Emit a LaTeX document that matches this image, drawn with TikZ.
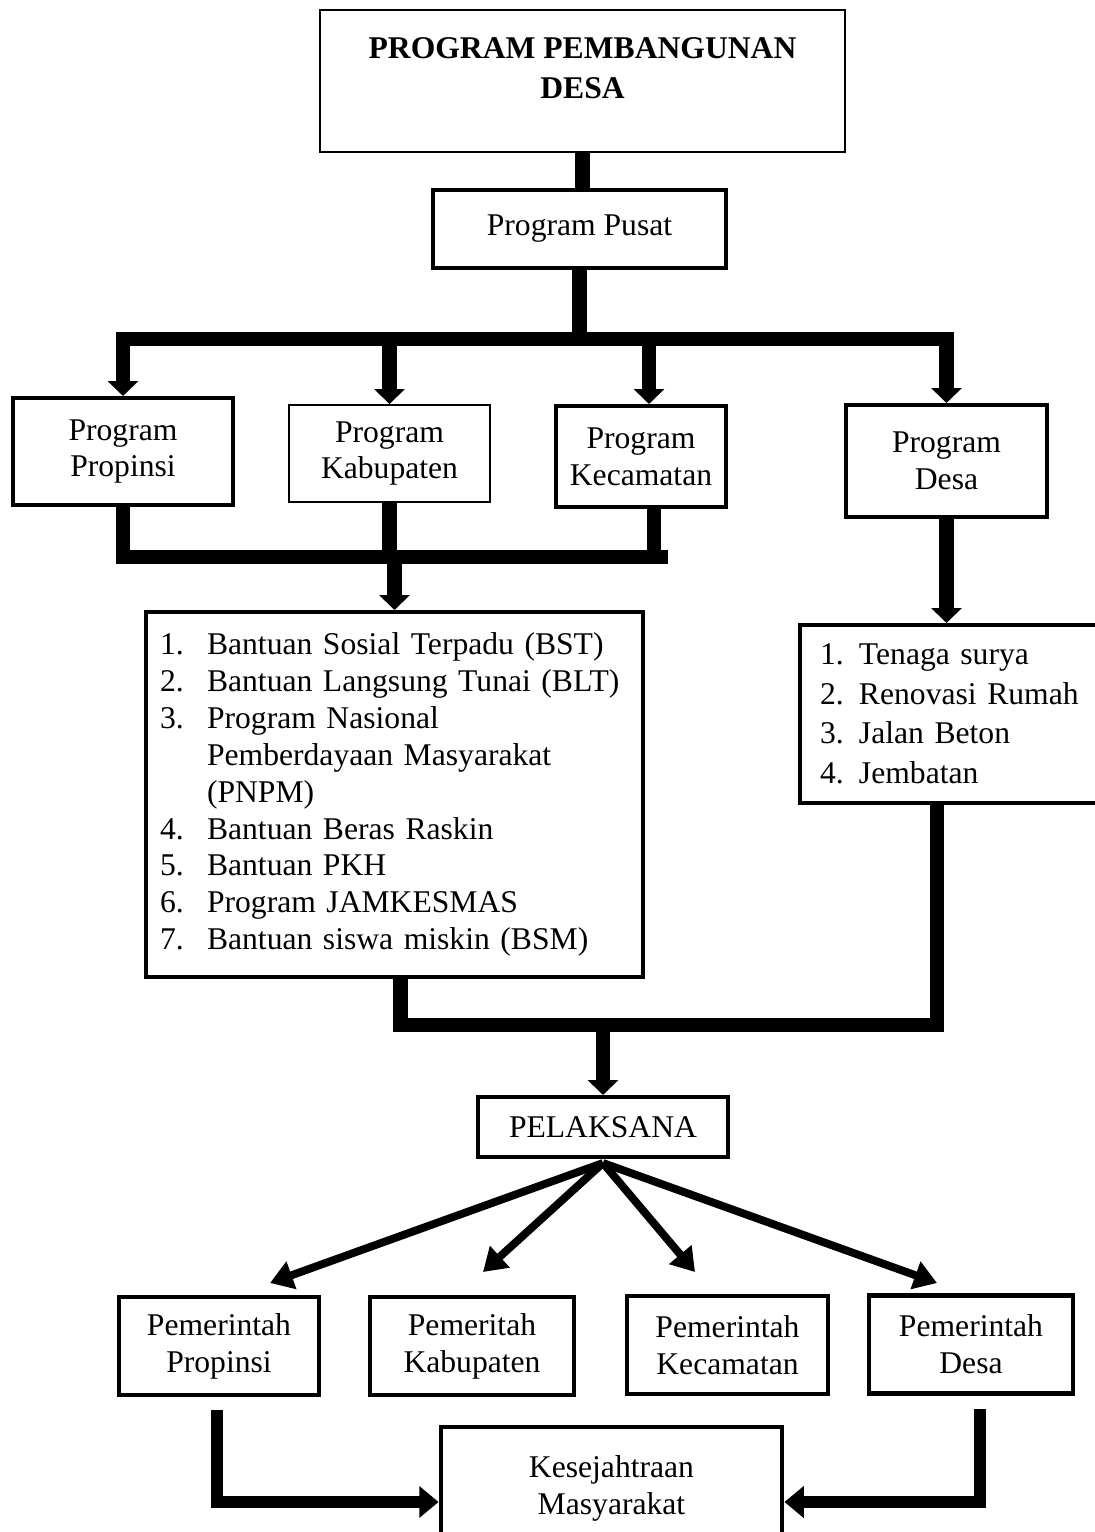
\documentclass[tikz,border=0pt]{standalone}
\usepackage{fontspec}
\setmainfont{Liberation Serif}
\usetikzlibrary{arrows.meta}

\newcommand{\butir}[2][0.94cm]{\makebox[#1][l]{#2}}

\begin{document}
\begin{tikzpicture}[x=0.02cm, y=-0.02cm, line join=miter,
    font=\fontsize{18}{21}\selectfont,
    kotak/.style={draw, line width=2.3pt, align=center, inner sep=2pt},
    kotaktipis/.style={kotak, line width=1.1pt},
    kotaktebal/.style={kotak, line width=2.8pt},
    jalur/.style={line width=8pt},
    panah/.style={jalur, -{Triangle[length=8.5pt,width=17pt]}},
    panahsiku/.style={line width=7pt, -{Triangle[length=11pt,width=17.5pt]}},
    panahmiring/.style={line width=4.5pt, -{Triangle[length=13pt,width=16pt]}}]
      \useasboundingbox (0,0) rectangle (1095,1532);

      % boxes
      \node[kotaktipis, minimum width=10.5cm, minimum height=2.84cm, text depth=15pt,
        font=\fontsize{18}{22.5}\selectfont\bfseries] (judul) at (582.5,81)
        {PROGRAM PEMBANGUNAN\\DESA};
      \node[kotak, minimum width=5.86cm, minimum height=1.56cm] (pusat) at (579.5,229) {Program Pusat};

      \node[kotak, minimum width=4.4cm, minimum height=2.14cm] (prop) at (123,451.5) {Program\\Propinsi};
      \node[kotaktipis, minimum width=4.02cm, minimum height=1.94cm] (kab) at (389.5,453.5) {Program\\Kabupaten};
      \node[kotak, minimum width=3.4cm, minimum height=2.02cm] (kec) at (641,456.5) {Program\\Kecamatan};
      \node[kotak, minimum width=4.02cm, minimum height=2.24cm] (desa) at (946.5,461) {Program\\Desa};

      \node[kotak, minimum width=9.94cm, minimum height=7.3cm, text width=9.38cm, align=left] (daftar1) at (394.5,794.5)
        {\butir{1.}Bantuan Sosial Terpadu (BST)\\
         \butir{2.}Bantuan Langsung Tunai (BLT)\\
         \butir{3.}Program Nasional\\
         \butir{}Pemberdayaan Masyarakat\\
         \butir{}(PNPM)\\
         \butir{4.}Bantuan Beras Raskin\\
         \butir{5.}Bantuan PKH\\
         \butir{6.}Program JAMKESMAS\\
         \butir{7.}Bantuan siswa miskin (BSM)};
      \node[kotak, minimum width=6cm, minimum height=3.56cm, text width=5.2cm, align=left,
        font=\fontsize{18}{22.5}\selectfont] (daftar2) at (950,714)
        {\butir[0.78cm]{1.}Tenaga surya\\
         \butir[0.78cm]{2.}Renovasi Rumah\\
         \butir[0.78cm]{3.}Jalan Beton\\
         \butir[0.78cm]{4.}Jembatan};

      \node[kotak, minimum width=5cm, minimum height=1.2cm] (pel) at (603,1127) {PELAKSANA};

      \node[kotaktebal, minimum width=4cm, minimum height=1.96cm] (bprop) at (219,1346) {Pemerintah\\Propinsi};
      \node[kotaktebal, minimum width=4.08cm, minimum height=1.96cm] (bkab) at (472,1346) {Pemeritah\\Kabupaten};
      \node[kotaktebal, minimum width=4.02cm, minimum height=1.96cm] (bkec) at (727.5,1345) {Pemerintah\\Kecamatan};
      \node[kotaktebal, minimum width=4.08cm, minimum height=1.96cm] (bdesa) at (971,1344.5) {Pemerintah\\Desa};

      \node[kotaktebal, minimum width=6.82cm, minimum height=2.46cm] (kes) at (611.5,1488.5) {Kesejahtraan\\Masyarakat};

      % junctions
      \coordinate (b1w) at (116,339);
      \coordinate (b1e) at (953.5,339);
      \coordinate (b2w) at (116,557);
      \coordinate (b2e) at (668,557);
      \coordinate (b3w) at (393,1025);
      \coordinate (b3e) at (944,1025);
      \coordinate (fan) at (603,1163);
      \coordinate (ujung1) at (270,1283);
      \coordinate (ujung2) at (483,1272);
      \coordinate (ujung3) at (695,1272);
      \coordinate (ujung4) at (937,1283);

      % top part
      \draw[jalur] (judul.south) -- (judul.south |- pusat.north);
      \draw[jalur] (pusat.south) -- (pusat.south |- b1w);
      \draw[jalur] (b1w) -- (b1e);
      \draw[panah] (prop.north |- b1w) -- (prop.north);
      \draw[panah] (kab.north |- b1w) -- (kab.north);
      \draw[panah] ([xshift=0.16cm]kec.north |- b1w) -- ([xshift=0.16cm]kec.north);
      \draw[panah] (desa.north |- b1w) -- (desa.north);

      % middle part
      \draw[jalur] (prop.south) -- (prop.south |- b2w);
      \draw[jalur] (kab.south) -- (kab.south |- b2w);
      \draw[jalur] ([xshift=0.26cm]kec.south) -- ([xshift=0.26cm]kec.south |- b2w);
      \draw[jalur] (b2w) -- (b2e);
      \draw[panah] (daftar1.north |- b2w) -- (daftar1.north);
      \draw[panah] (desa.south) -- (desa.south |- daftar2.north);

      \draw[jalur] ([xshift=0.12cm]daftar1.south) -- ([xshift=0.12cm]daftar1.south |- b3w);
      \draw[jalur] ([xshift=-0.26cm]daftar2.south) -- ([xshift=-0.26cm]daftar2.south |- b3e);
      \draw[jalur] (b3w) -- (b3e);
      \draw[panah] (pel.north |- b3w) -- (pel.north);

      % bottom part
      \foreach \t in {1,...,4}
        \draw[panahmiring] (fan) -- (ujung\t);

      \draw[panahsiku] ([yshift=-0.26cm, xshift=-0.04cm]bprop.south) |- ([yshift=-0.27cm]kes.west);
      \draw[panahsiku] ([yshift=-0.26cm, xshift=0.18cm]bdesa.south) |- ([yshift=-0.27cm]kes.east);
    \end{tikzpicture}
\end{document}
